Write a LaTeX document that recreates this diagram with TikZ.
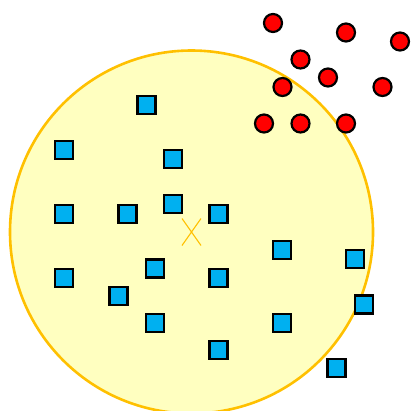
\documentclass[tikz,border=0pt]{standalone}
\usepackage{tikz}
\usetikzlibrary{calc,positioning}
\definecolor{zonefill}{HTML}{FFFFC0}
\definecolor{zoneedge}{HTML}{FFC000}
\definecolor{sqblue}{HTML}{00B0F0}
\tikzset{
    sq/.style={draw=black, line width=2.2pt, fill=sqblue, minimum size=18pt, inner sep=0pt},
    dot/.style={circle, draw=black, line width=2.2pt, fill=red, minimum size=18pt, inner sep=0pt},
    zone/.style={draw=zoneedge, line width=2.6pt, fill=zonefill},
}

\begin{document}
\begin{tikzpicture}[x=1pt,y=-1pt]
   \useasboundingbox (0,0) rectangle (411,410);
   \coordinate (ctr) at (191.5,232);
   \draw[zone] (ctr) circle (181.5);
   % centre mark
   \draw[zoneedge, line width=1.1pt] ($(ctr)+(-9.5,-13.5)$) -- ($(ctr)+(9.5,13.5)$)
                                    ($(ctr)+(9.5,-13.5)$) -- ($(ctr)+(-9.5,13.5)$);
   % squares
   \node[sq] (s1)  at (146.5,105) {};
   \node[sq] (s2)  at (64,150) {};
   \node[sq] (s3)  at (173,159) {};
   \node[sq] (s4)  at (64,214) {};
   \node[sq] (s5)  at (127.5,214) {};
   \node[sq] (s6)  at (173,204) {};
   \node[sq] (s7)  at (218.5,214) {};
   \node[sq] (s8)  at (282,250) {};
   \node[sq] (s9)  at (355,259) {};
   \node[sq] (s10) at (64,278) {};
   \node[sq] (s11) at (155,268.5) {};
   \node[sq] (s12) at (218.5,278) {};
   \node[sq] (s13) at (118.5,296) {};
   \node[sq] (s14) at (364,304.5) {};
   \node[sq] (s15) at (155,323) {};
   \node[sq] (s16) at (282,323) {};
   \node[sq] (s17) at (218.5,350) {};
   \node[sq] (s18) at (336.5,368) {};
   % dots
   \node[dot] (r1)  at (273,23) {};
   \node[dot] (r2)  at (346,32.5) {};
   \node[dot] (r3)  at (400,41.5) {};
   \node[dot] (r4)  at (300.5,59.5) {};
   \node[dot] (r5)  at (328,77.5) {};
   \node[dot] (r6)  at (282.5,87) {};
   \node[dot] (r7)  at (382.5,87) {};
   \node[dot] (r8)  at (264,123.5) {};
   \node[dot] (r9)  at (300.5,123.5) {};
   \node[dot] (r10) at (346,123.5) {};
\end{tikzpicture}
\end{document}
